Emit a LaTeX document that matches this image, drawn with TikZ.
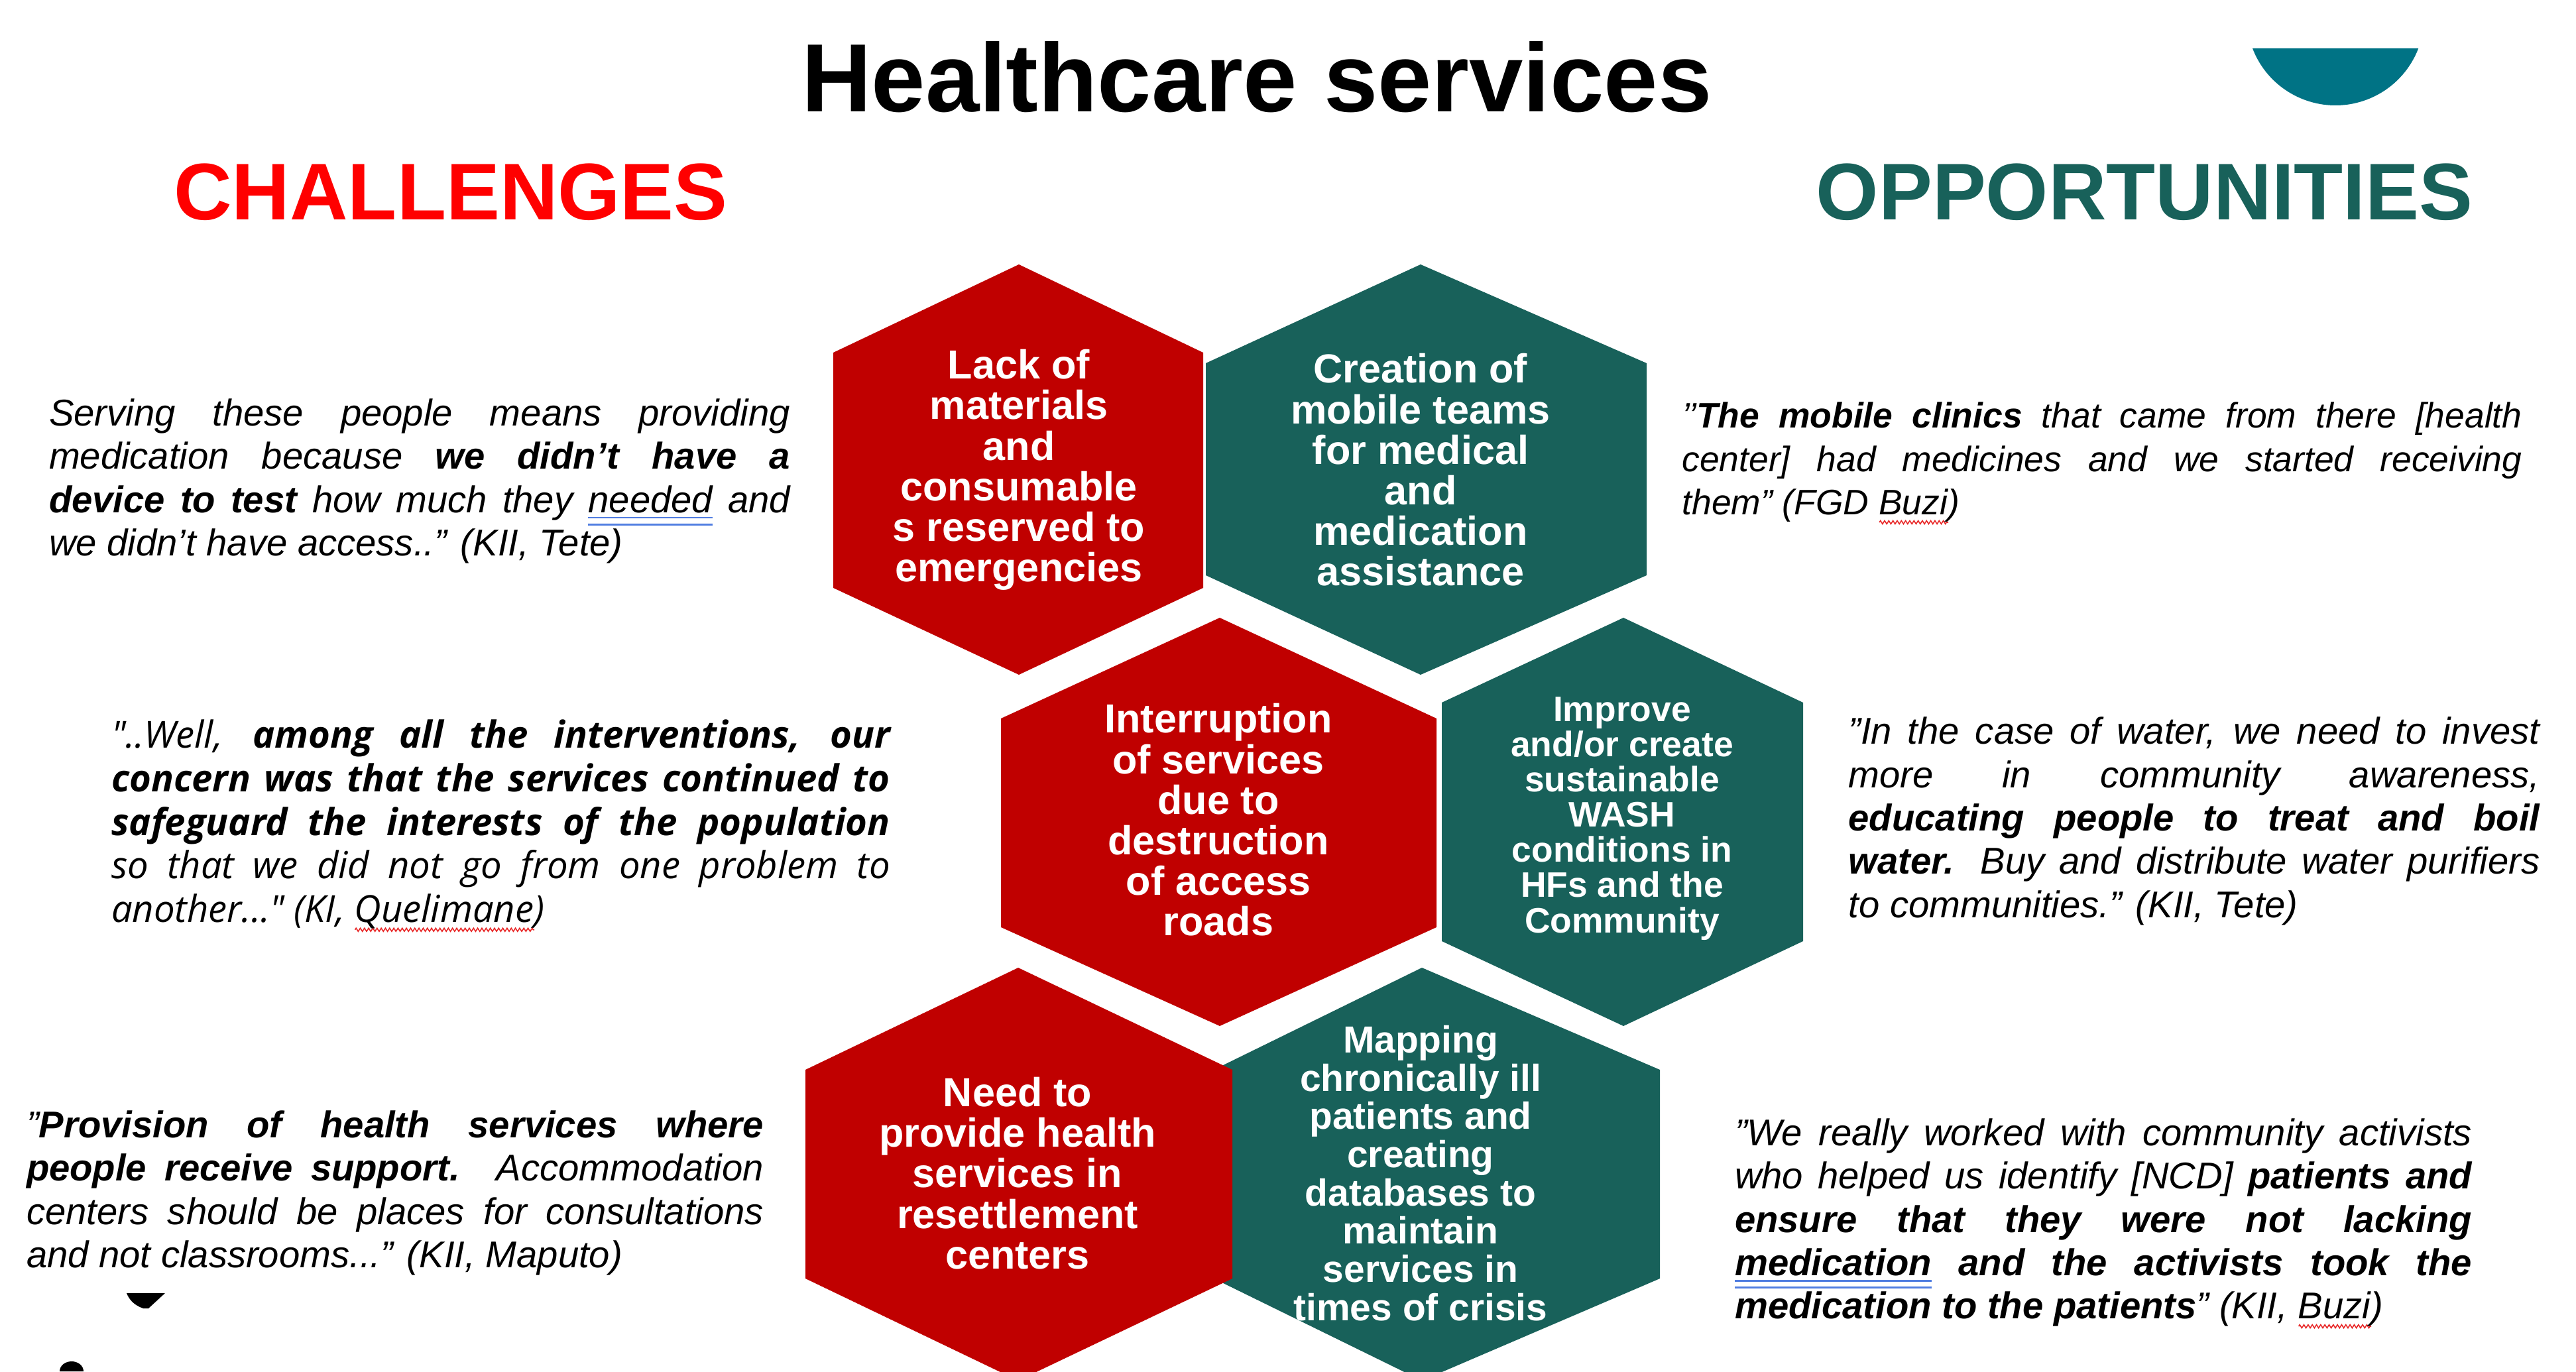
\documentclass[tikz,border=0pt]{standalone}
\usepackage{fontspec}
\setmainfont{Liberation Sans}
\newfontfamily\quotefont{Open Sans}
\usetikzlibrary{decorations.pathmorphing}

\definecolor{hexred}{RGB}{192,0,0}
\definecolor{hexteal}{RGB}{24,97,90}
\definecolor{headred}{RGB}{255,0,0}
\definecolor{capteal}{RGB}{0,115,133}
\definecolor{spellred}{RGB}{232,40,40}
\definecolor{grammarblue}{RGB}{80,125,225}

% proofing marks under single words
\newsavebox\markbox
\newcommand\grammarline[1]{\leavevmode\sbox\markbox{#1}%
  \rlap{\textcolor{grammarblue}{\rule[-2.6pt]{\wd\markbox}{0.8pt}}}%
  \rlap{\textcolor{grammarblue}{\rule[-5.6pt]{\wd\markbox}{0.8pt}}}\usebox\markbox}
\newcommand\spellwave[1]{\leavevmode\sbox\markbox{#1}%
  \rlap{\tikz[baseline=0pt]\draw[spellred,line width=0.45pt,decorate,
    decoration={zigzag,amplitude=0.7pt,segment length=1.8pt}] (0,-3.2pt) -- (\wd\markbox,-3.2pt);}%
  \usebox\markbox}

\begin{document}
\begin{tikzpicture}[
  redhex/.style={fill=hexred},
  tealhex/.style={fill=hexteal},
  hextext/.style={text=white,font=\bfseries\fontsize{17.4}{17.4}\selectfont,align=center,inner sep=0pt},
  quote/.style={font=\itshape\fontsize{16}{18.6}\selectfont,align=justify,inner sep=0pt},
  heading/.style={font=\bfseries\fontsize{34.5}{40}\selectfont,inner sep=0pt},
  title/.style={font=\bfseries\fontsize{41.6}{46}\selectfont,inner sep=0pt},
]
\useasboundingbox (0,0) rectangle (38.86,20.69);
\clip (0,0) rectangle (38.86,20.69);

\node[title] (title) at (18.96,19.53) {Healthcare services};
\node[heading,text=headred] (challenges) at (6.80,17.79) {CHALLENGES};
\node[heading,text=hexteal] (opportunities) at (32.35,17.79) {OPPORTUNITIES};
\fill[capteal] (33.98,19.96) arc[start angle=201,end angle=339,radius=1.34] -- cycle;

% top row
\fill[redhex] (15.37,16.70) -- (18.15,15.37) -- (18.15,11.82) -- (15.37,10.51) -- (12.57,11.82) -- (12.57,15.37) -- cycle;
\node[hextext] (lack) at (15.37,13.60) {Lack of\\materials\\and\\consumable\\s reserved to\\emergencies};
\fill[tealhex] (21.43,16.70) -- (24.84,15.21) -- (24.84,12.01) -- (21.43,10.51) -- (18.19,12.01) -- (18.19,15.21) -- cycle;
\node[hextext] (mobile) at (21.43,13.60) {Creation of\\mobile teams\\for medical\\and\\medication\\assistance};

% middle row
\fill[redhex] (18.40,11.37) -- (21.67,9.85) -- (21.67,6.70) -- (18.40,5.21) -- (15.10,6.70) -- (15.10,9.85) -- cycle;
\node[hextext] (roads) at (18.38,8.32) {Interruption\\of services\\due to\\destruction\\of access\\roads};
\fill[tealhex] (24.49,11.37) -- (27.20,10.09) -- (27.20,6.49) -- (24.49,5.21) -- (21.75,6.49) -- (21.75,10.09) -- cycle;
\node[hextext,font=\bfseries\fontsize{15.2}{15.1}\selectfont] (wash) at (24.47,8.34) {Improve\\and/or create\\sustainable\\WASH\\conditions in\\HFs and the\\Community};

% bottom row
\fill[tealhex] (21.45,6.09) -- (25.04,4.55) -- (25.04,1.40) -- (21.45,-0.14) -- (18.31,1.40) -- (18.31,4.55) -- cycle;
\node[hextext,font=\bfseries\fontsize{16.2}{16.4}\selectfont] (mapping) at (21.43,2.99) {Mapping\\chronically ill\\patients and\\creating\\databases to\\maintain\\services in\\times of crisis};
\fill[redhex] (15.36,6.09) -- (18.59,4.55) -- (18.59,1.40) -- (15.36,-0.14) -- (12.15,1.40) -- (12.15,4.55) -- cycle;
\node[hextext] (resettle) at (15.35,2.99) {Need to\\provide health\\services in\\resettlement\\centers};

% quotes
\node[quote,text width=11.18cm] (q1) at (6.33,13.43)
  {Serving these people means providing\linebreak medication because \textbf{we didn’t have a\linebreak device to test} how much they \grammarline{needed} and\linebreak we didn’t have access..” (KII, Tete)};
\node[quote,text width=12.67cm,font=\itshape\fontsize{15.2}{18.7}\selectfont] (q2) at (31.71,13.70)
  {’’\textbf{The mobile clinics} that came from there [health\linebreak center] had medicines and we started receiving\linebreak them” (FGD \spellwave{Buzi})};
\node[quote,text width=11.75cm,font=\quotefont\itshape\fontsize{16}{18.7}\selectfont] (q3) at (7.555,8.23)
  {"..Well, \textbf{among all the interventions, our\linebreak concern was that the services continued to\linebreak safeguard the interests of the population}\linebreak so that we did not go from one problem to\linebreak another..." (KI, \spellwave{Quelimane})};
\node[quote,text width=10.43cm] (q4) at (33.10,8.30)
  {"In the case of water, we need to invest\linebreak more in community awareness,\linebreak \textbf{educating people to treat and boil\linebreak water.} Buy and distribute water purifiers\linebreak to communities.” (KII, Tete)};
\node[quote,text width=11.12cm] (q5) at (5.96,2.69)
  {"\textbf{Provision of health services where\linebreak people receive support.} Accommodation\linebreak centers should be places for consultations\linebreak and not classrooms...” (KII, Maputo)};
\node[quote,text width=11.12cm] (q6) at (31.73,2.23)
  {"We really worked with community activists\linebreak who helped us identify [NCD] \textbf{patients and\linebreak ensure that they were not lacking\linebreak \grammarline{medication} and the activists took the\linebreak medication to the patients}” (KII, \spellwave{Buzi})};

% stray marks, lower left
\fill (1.91,1.18) -- (2.49,1.18) -- (2.24,0.95) -- (2.16,0.95) .. controls (2.02,1.0) and (1.95,1.08) .. cycle;
\fill (0.90,0) arc[start angle=180,end angle=0,x radius=0.18,y radius=0.15] -- cycle;
\end{tikzpicture}
\end{document}
